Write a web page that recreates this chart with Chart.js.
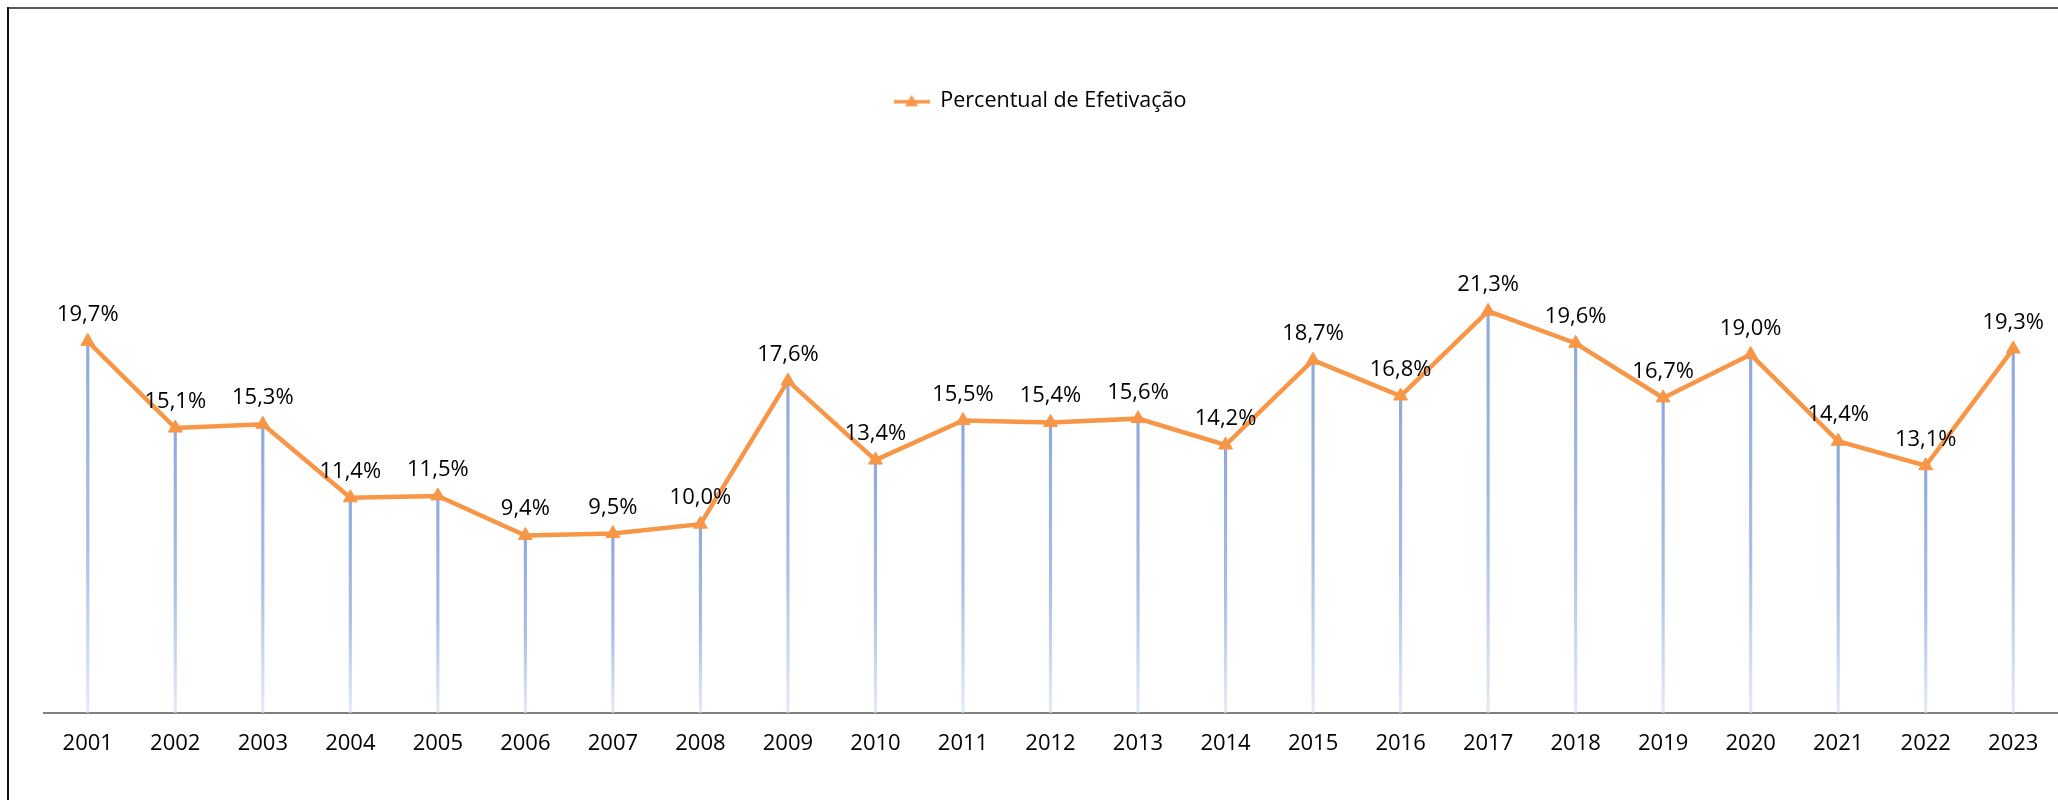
<!DOCTYPE html>
<html>
<head>
<meta charset="utf-8">
<script src="https://cdn.jsdelivr.net/npm/chart.js@4/dist/chart.umd.min.js"></script>
<style>
	body { margin: 0; overflow: hidden; background: #fff; }
	#myChart { position: absolute; left: 0; top: 0; }
	.bordaTopo { position: absolute; left: 7px; top: 7px; width: 2100px; height: 2px; background: #595959; }
	.bordaEsq { position: absolute; left: 7px; top: 7px; width: 1.5px; height: 800px; background: #111; }
</style>
</head>
<body>
<canvas id="myChart" width="2066" height="800"></canvas>
<div class="bordaTopo"></div>
<div class="bordaEsq"></div>
<script>
const anos = ['2001', '2002', '2003', '2004', '2005', '2006', '2007', '2008', '2009', '2010', '2011', '2012',
	'2013', '2014', '2015', '2016', '2017', '2018', '2019', '2020', '2021', '2022', '2023'];
const percentual = [19.7, 15.1, 15.3, 11.4, 11.5, 9.4, 9.5, 10.0, 17.6, 13.4, 15.5, 15.4,
	15.6, 14.2, 18.7, 16.8, 21.3, 19.6, 16.7, 19.0, 14.4, 13.1, 19.3];

const laranja = '#F79646';
const fonte = '"Open Sans", "Noto Sans", sans-serif';

const formatar = (v) => v.toFixed(1).replace('.', ',') + '%';

// marcador da legenda: linha com triangulo
const marcador = document.createElement('canvas');
marcador.width = 36;
marcador.height = 16;
(() => {
	const c = marcador.getContext('2d');
	c.strokeStyle = laranja;
	c.lineWidth = 3.5;
	c.beginPath();
	c.moveTo(0, 9);
	c.lineTo(36, 9);
	c.stroke();
	c.fillStyle = laranja;
	c.beginPath();
	c.moveTo(18, 2);
	c.lineTo(24.5, 13.5);
	c.lineTo(11.5, 13.5);
	c.closePath();
	c.fill();
})();

const espacoLegenda = {
	id: 'espacoLegenda',
	beforeInit(chart) {
		const fit = chart.legend.fit;
		chart.legend.fit = function () {
			fit.bind(chart.legend)();
			this.height += 120;
		};
	},
};

const etiquetas = {
	id: 'etiquetas',
	afterDatasetsDraw(chart) {
		const ctx = chart.ctx;
		const meta = chart.getDatasetMeta(1);
		ctx.save();
		ctx.font = '22px ' + fonte;
		ctx.fillStyle = '#000';
		ctx.textAlign = 'center';
		ctx.textBaseline = 'alphabetic';
		meta.data.forEach((pt, i) => {
			ctx.fillText(formatar(percentual[i]), pt.x, pt.y - 20);
		});
		ctx.restore();
	},
};

const gradiente = (context) => {
	const chart = context.chart;
	const { chartArea, scales } = chart;
	if (!chartArea || context.type !== 'data') return '#8FAADC';
	const topo = scales.y.getPixelForValue(context.raw);
	const base = scales.y.getPixelForValue(0);
	const g = chart.ctx.createLinearGradient(0, topo, 0, base);
	g.addColorStop(0, '#8EA9DB');
	g.addColorStop(0.55, '#A8BEE5');
	g.addColorStop(1, '#E4EBF7');
	return g;
};

const config = {
	type: 'bar',
	data: {
		labels: anos,
		datasets: [
			{
				type: 'bar',
				label: 'linhas',
				data: percentual,
				backgroundColor: gradiente,
				barThickness: 2.5,
				order: 1,
			},
			{
				type: 'line',
				label: 'Percentual de Efetivação',
				data: percentual,
				borderColor: laranja,
				backgroundColor: laranja,
				borderWidth: 4.5,
				tension: 0,
				pointStyle: 'triangle',
				pointRadius: 8,
				pointBackgroundColor: laranja,
				pointBorderColor: laranja,
				pointBorderWidth: 1,
				order: 0,
			},
		],
	},
	options: {
		responsive: false,
		animation: false,
		layout: { padding: { left: 14, right: 0, top: 80, bottom: 25 } },
		plugins: {
			tooltip: { enabled: false },
			legend: {
				position: 'top',
				labels: {
					usePointStyle: true,
					pointStyleWidth: 36,
					padding: 10,
					color: '#000',
					font: { family: fonte, size: 21.5 },
					generateLabels: () => [{
						text: 'Percentual de Efetivação',
						pointStyle: marcador,
						fillStyle: laranja,
						strokeStyle: laranja,
						lineWidth: 0,
						datasetIndex: 1,
						fontColor: '#000',
					}],
				},
			},
		},
		scales: {
			x: {
				grid: { display: false, drawTicks: false },
				border: { display: true, color: '#808080', width: 2 },
				ticks: { color: '#000', padding: 18, font: { family: fonte, size: 22 } },
			},
			y: {
				min: 0,
				max: 25,
				grid: { display: false },
				border: { display: false },
				ticks: { display: false },
				afterFit: (scale) => { scale.width = 30; },
			},
		},
	},
	plugins: [espacoLegenda, etiquetas],
};

const myChart = new Chart(document.getElementById('myChart'), config);
</script>
</body>
</html>
